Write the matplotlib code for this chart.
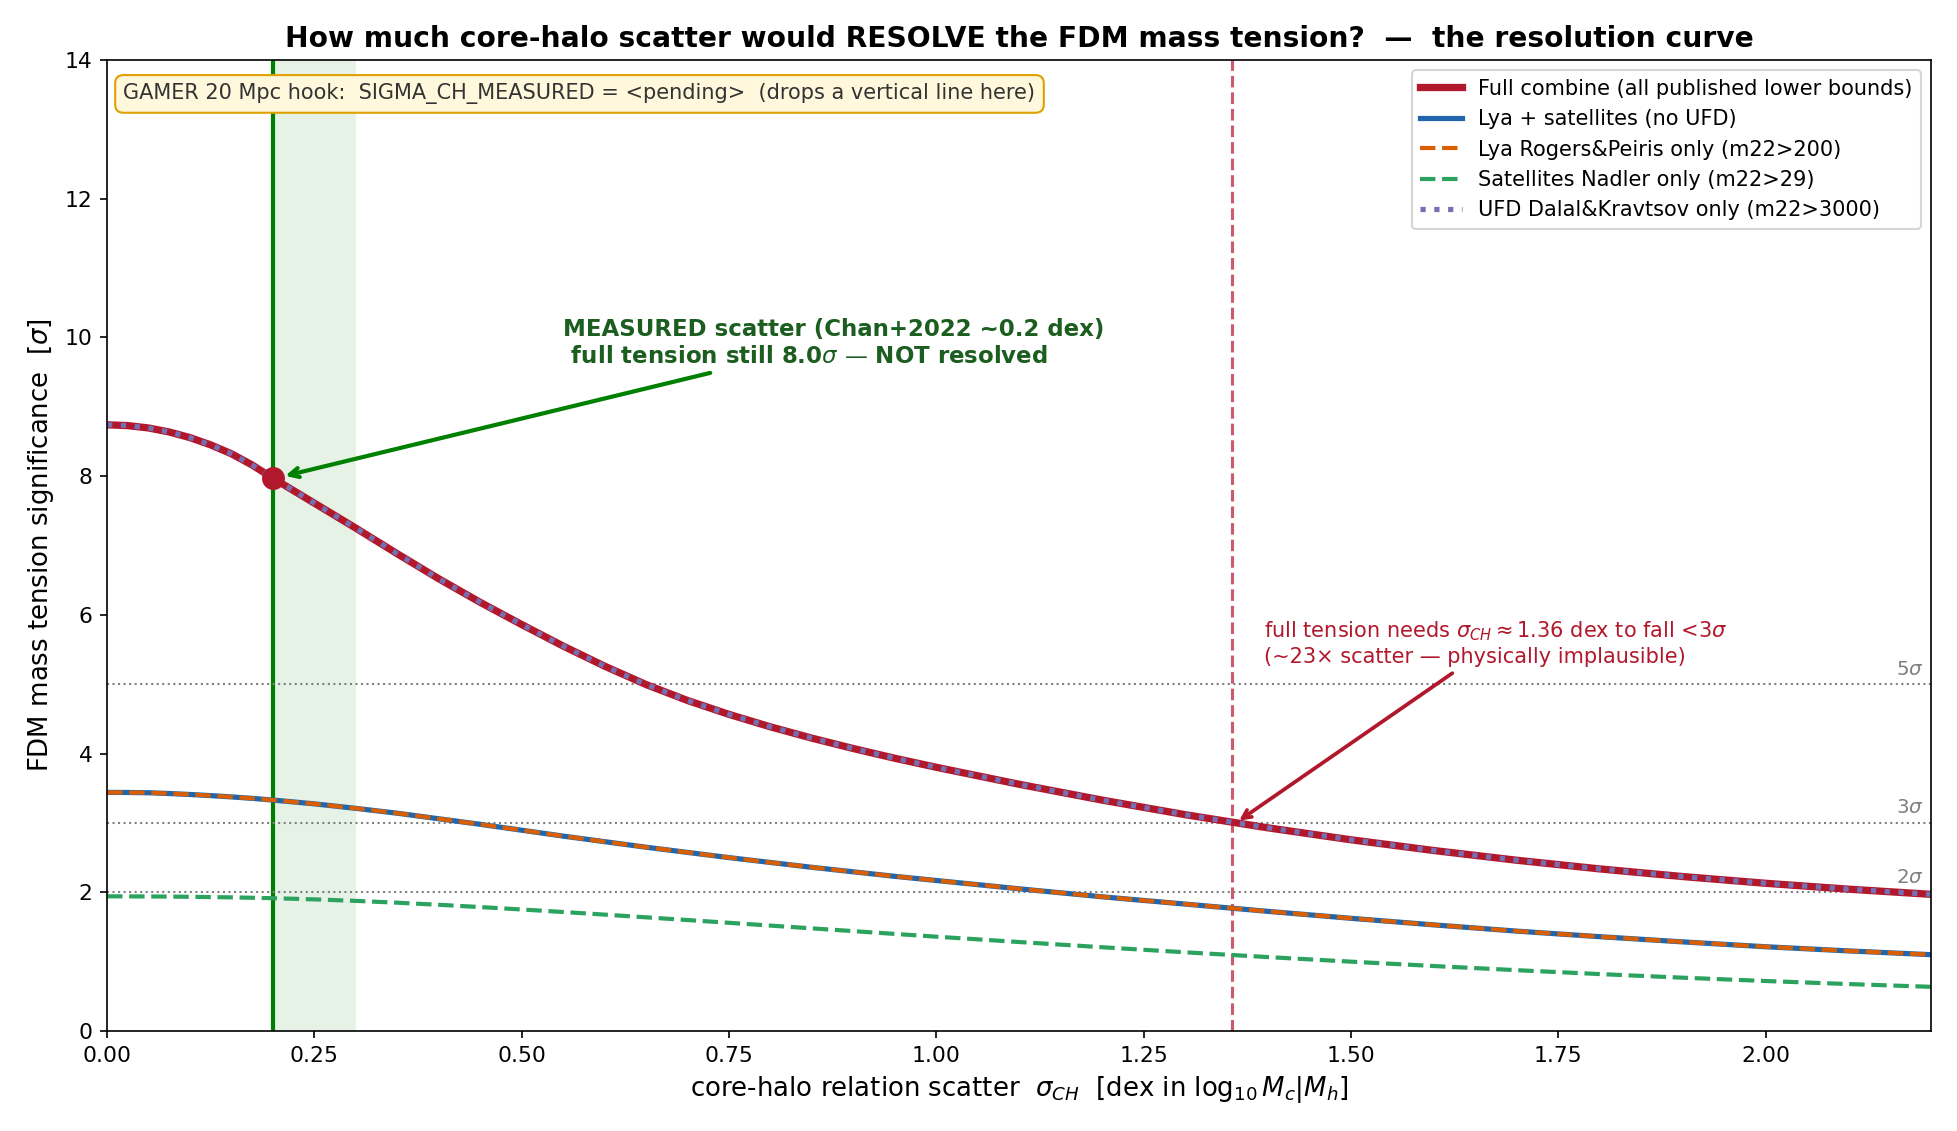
import numpy as np
import matplotlib.pyplot as plt

# scatter grid (dex) and tension significance
sigma_ch = [0.0, 0.025, 0.05, 0.075, 0.1, 0.125, 0.15, 0.175, 0.2, 0.25, 0.3, 0.35, 0.4,
            0.45, 0.5, 0.55, 0.6, 0.65, 0.7, 0.75, 0.8, 0.85, 0.9, 0.95, 1.0, 1.1, 1.2,
            1.3, 1.4, 1.5, 1.6, 1.7, 1.8, 1.9, 2.0, 2.1, 2.2]
full_combine = [8.74, 8.728, 8.694, 8.636, 8.555, 8.45, 8.322, 8.16, 7.97, 7.61, 7.25,
                6.88, 6.52, 6.18, 5.86, 5.55, 5.26, 4.995, 4.765, 4.565, 4.385, 4.222,
                4.072, 3.932, 3.802, 3.557, 3.329, 3.119, 2.929, 2.757, 2.602, 2.462,
                2.337, 2.227, 2.13, 2.045, 1.97]
lya_sat = [3.44, 3.439, 3.435, 3.424, 3.41, 3.394, 3.375, 3.354, 3.33, 3.275, 3.21, 3.14,
           3.06, 2.98, 2.895, 2.81, 2.73, 2.65, 2.575, 2.50, 2.43, 2.36, 2.295, 2.23,
           2.17, 2.05, 1.935, 1.83, 1.725, 1.625, 1.53, 1.44, 1.36, 1.285, 1.215, 1.155,
           1.10]
lya_only = list(lya_sat)
sat_only = [1.942, 1.941, 1.940, 1.938, 1.935, 1.931, 1.927, 1.921, 1.915, 1.898, 1.876,
            1.850, 1.820, 1.787, 1.752, 1.716, 1.678, 1.639, 1.600, 1.560, 1.520, 1.480,
            1.440, 1.400, 1.360, 1.283, 1.208, 1.135, 1.066, 1.00, 0.937, 0.877, 0.821,
            0.769, 0.721, 0.677, 0.637]
ufd_only = list(full_combine)

sigma_measured = 0.2
sigma_band = (0.2, 0.3)
sigma_needed = 1.356
tension_at_measured = 7.97
ref_levels = [5, 3, 2]

RED = '#b2182b'
fig, ax = plt.subplots(figsize=(13.05, 7.54), dpi=150)
fig.subplots_adjust(left=0.0547, right=0.9867, top=0.947, bottom=0.0884)

ax.axvspan(sigma_band[0], sigma_band[1], color='green', alpha=0.1, lw=0)
ax.axvline(sigma_measured, color='green', lw=2)
ax.axvline(sigma_needed, color=RED, ls='--', lw=1.5, alpha=0.7)

for lev in ref_levels:
    ax.axhline(lev, color='gray', ls=':', lw=1)
    ax.text(2.19, lev + 0.08, f'{lev}$\\sigma$', color='gray', fontsize=9.5, ha='right', va='bottom')

ax.plot(sigma_ch, full_combine, color=RED, lw=3.5, label='Full combine (all published lower bounds)')
ax.plot(sigma_ch, lya_sat, color='#2166ac', lw=2.5, label='Lya + satellites (no UFD)')
ax.plot(sigma_ch, lya_only, color='#d95f02', lw=2, ls='--', label='Lya Rogers&Peiris only (m22>200)')
ax.plot(sigma_ch, sat_only, color='#2ca25f', lw=2, ls='--', label='Satellites Nadler only (m22>29)')
ax.plot(sigma_ch, ufd_only, color='#7570b3', lw=2.5, ls=':', label='UFD Dalal&Kravtsov only (m22>3000)')

ax.plot(sigma_measured, tension_at_measured, 'o', color=RED, ms=10, zorder=5)

ax.annotate('MEASURED scatter (Chan+2022 ~0.2 dex)\n full tension still 8.0$\\sigma$ \u2014 NOT resolved',
            xy=(sigma_measured + 0.01, tension_at_measured + 0.02), xytext=(0.55, 9.92),
            ha='left', va='center', fontsize=11, fontweight='bold', color='#1b5e20',
            arrowprops=dict(arrowstyle='->', color='green', lw=2))

ax.annotate('full tension needs $\\sigma_{CH}\\approx$1.36 dex to fall <3$\\sigma$\n'
            '(~23\u00d7 scatter \u2014 physically implausible)',
            xy=(sigma_needed + 0.005, 3.0), xytext=(1.395, 5.59),
            ha='left', va='center', fontsize=10, color=RED,
            arrowprops=dict(arrowstyle='->', color=RED, lw=1.8))

ax.text(0.009, 0.965, 'GAMER 20 Mpc hook:  SIGMA_CH_MEASURED = <pending>  (drops a vertical line here)',
        transform=ax.transAxes, fontsize=10, color='#333333', ha='left', va='center',
        bbox=dict(boxstyle='round,pad=0.4', facecolor='#fff8dc', edgecolor='#e0a000'))

ax.set_xlim(0, 2.2)
ax.set_ylim(0, 14)
ax.set_xlabel('core-halo relation scatter  $\\sigma_{CH}$  [dex in $\\log_{10} M_c|M_h$]', fontsize=12.5)
ax.set_ylabel('FDM mass tension significance  [$\\sigma$]', fontsize=12.5)
ax.set_title('How much core-halo scatter would RESOLVE the FDM mass tension?  \u2014  the resolution curve',
             fontsize=13.5, fontweight='bold')
ax.tick_params(labelsize=10.5)
ax.legend(loc='upper right', fontsize=10)

fig.savefig('out.png', dpi=150)
